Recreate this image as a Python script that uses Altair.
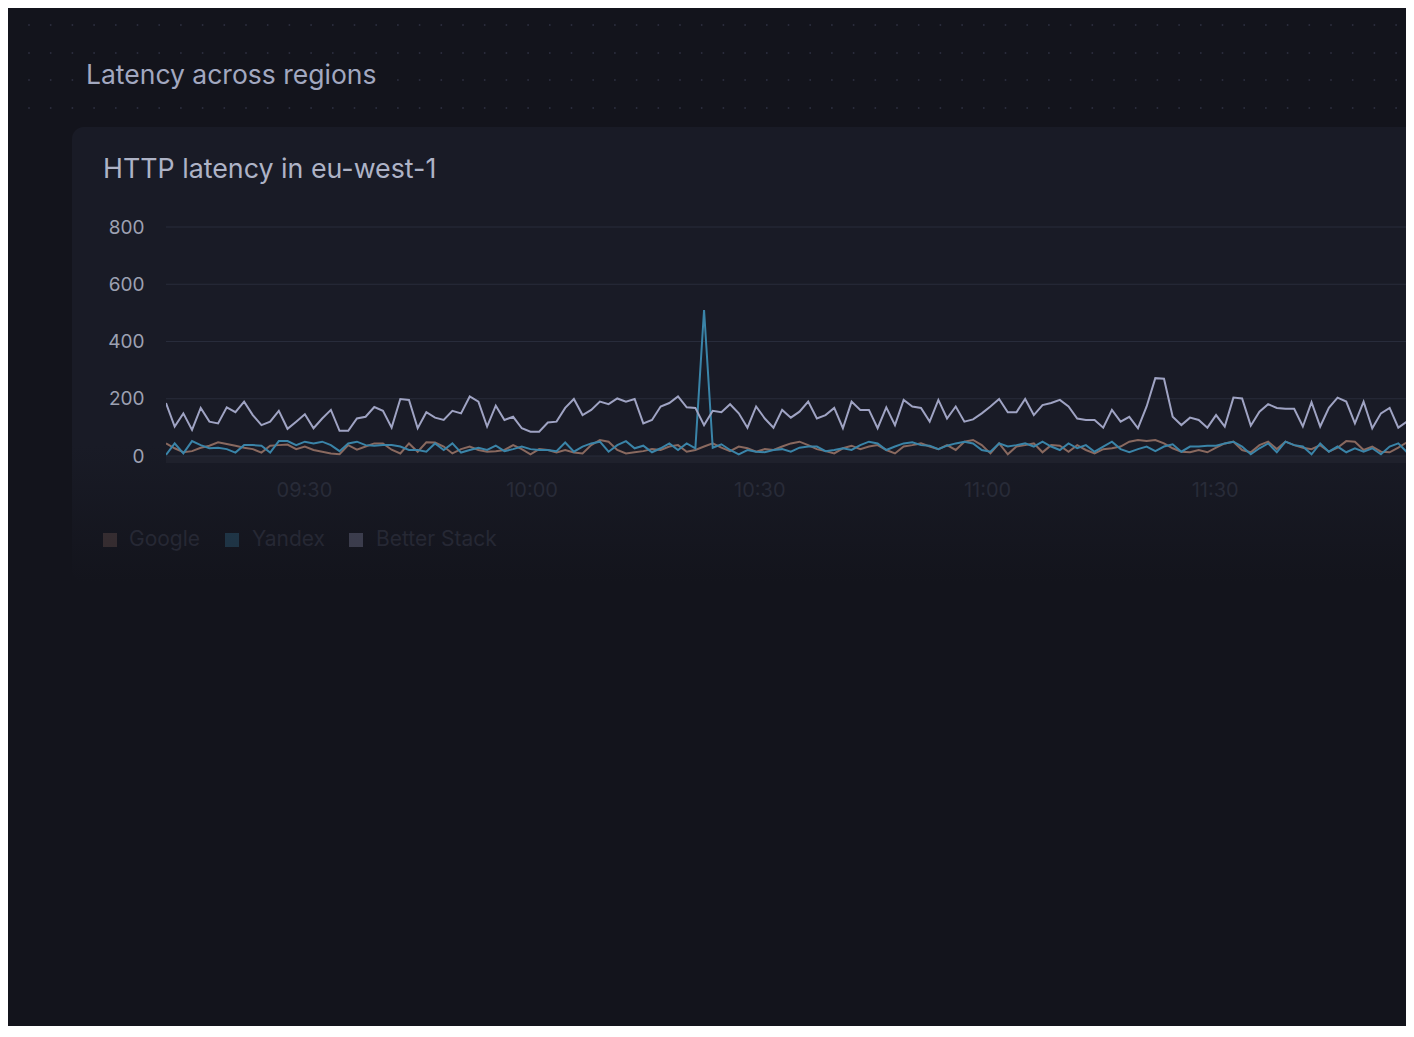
import altair as alt
import pandas as pd

# ---------------- data ----------------
series_names = ["Google", "Yandex", "Better Stack"]
series_colors = ["#89695f", "#3a84a8", "#9fa3c3"]

google = [44,27,13,17,29,36,48,42,36,29,
          24,12,36,38,40,24,33,21,15,9,
          6,38,22,33,44,44,22,9,44,15,
          48,47,33,9,24,33,21,15,17,21,
          38,24,6,24,21,12,21,12,9,
          38,56,50,21,9,13,17,24,21,33,
          38,15,21,33,44,29,17,33,27,15,
          24,21,33,44,50,38,24,17,9,27,
          36,24,33,38,21,9,33,38,44,33,
          24,38,21,50,56,38,9,
          44,6,33,38,44,13,38,36,15,38,
          21,9,24,27,33,50,56,52,56,44,
          27,15,13,21,13,29,44,50,21,13,
          38,50,24,50,38,29,24,38,15,29,
          52,50,21,33,15,13,29,48,24,15]

yandex = [4,44,9,52,38,27,29,24,12,38,
          38,36,12,52,52,38,50,44,50,38,
          17,44,50,38,36,38,38,33,21,21,
          15,44,21,44,12,21,29,21,36,17,
          24,33,24,21,21,17,47,15,33,
          44,50,15,38,52,27,36,13,27,44,
          21,44,27,510,29,41,21,6,21,15,
          13,21,24,15,29,33,33,17,21,27,
          21,38,50,44,21,33,44,48,38,36,
          24,36,44,50,44,21,15,
          44,33,38,44,33,50,33,21,44,27,
          38,15,33,50,24,13,24,33,17,33,
          41,15,33,33,36,36,44,50,33,6,
          27,44,13,50,38,33,6,44,15,33,
          13,27,15,27,6,33,44,13,24,33]

better_stack = [185,103,149,91,168,120,114,170,153,190,
                143,108,120,158,95,120,146,97,131,161,
                88,88,131,137,171,158,99,199,196,97,
                153,134,126,158,149,208,190,103,176,126,
                137,97,85,85,117,120,168,199,143,
                161,190,181,201,190,199,114,126,173,185,
                208,170,168,108,158,153,181,149,99,173,
                131,99,161,134,155,190,131,143,168,97,
                190,161,161,97,170,108,196,173,168,120,
                196,131,173,120,128,149,173,
                199,153,153,199,143,178,185,196,173,131,
                126,126,99,161,120,137,97,173,272,270,
                137,108,134,126,99,143,103,204,201,106,
                155,181,168,165,165,103,188,103,168,204,
                190,114,190,97,149,168,99,120,161,120]

y_ticks = [0, 200, 400, 600, 800]
x_tick_labels = ["09:30", "10:00", "10:30", "11:00", "11:30"]
start_time = "09:11:50"      # first sample
end_time = "11:55:12"        # right edge of the visible window
sample_seconds = 68.6
page_title = ["Latency across regions"]
panel_title = ["HTTP latency in eu-west-1"]


def to_min(s):
    parts = [int(p) for p in s.split(":")]
    while len(parts) < 3:
        parts.append(0)
    return (parts[0] - 9) * 60 + parts[1] + parts[2] / 60.0


n = min(len(google), len(yandex), len(better_stack))
t0 = to_min(start_time)
rows = []
for name, vals in zip(series_names, [google, yandex, better_stack]):
    for i, v in enumerate(vals[:n]):
        rows.append({"t": t0 + i * sample_seconds / 60.0, "latency": v, "series": name})
df = pd.DataFrame(rows)
x_tick_vals = [to_min(s) for s in x_tick_labels]

# ---------------- layout ----------------
W, H = 1240, 229
PAD_L, PAD_T, PAD_B = 158, 219, 570
PAGE_BG = "#13141c"
CARD_BG = "#191b26"
FONT = "Inter"

one = pd.DataFrame({"k": [0]})

# decorative dot texture in the page header (pixel space, plot-origin relative)
dot_rows = []
for yy in [25, 53, 80, 108]:
    k = 0
    while 29 + k * 21.7 < 1404:
        xx = 29 + k * 21.7
        if not (yy == 80 and 78 < xx < 388):
            dot_rows.append({"px": xx - 166, "py": yy - 227})
        k += 1
dots = alt.Chart(pd.DataFrame(dot_rows)).mark_circle(
    size=3.5, color="#34374a", opacity=0.75
).encode(x=alt.X("px:Q", scale=None, axis=None), y=alt.Y("py:Q", scale=None, axis=None))

card_fill = alt.LinearGradient(
    gradient="linear",
    stops=[
        alt.GradientStop(color=CARD_BG, offset=0),
        alt.GradientStop(color=CARD_BG, offset=0.7),
        alt.GradientStop(color=PAGE_BG, offset=1),
    ],
    x1=0, x2=0, y1=0, y2=1,
)
card = alt.Chart(one).mark_rect(
    color=card_fill, cornerRadiusTopLeft=12, cornerRadiusBottomLeft=12
).encode(x=alt.value(-94), x2=alt.value(W), y=alt.value(-100), y2=alt.value(355))

t1 = alt.Chart(pd.DataFrame({"label": page_title})).mark_text(
    align="left", baseline="alphabetic", font=FONT, fontSize=26.5, color="#a2a8c0"
).encode(x=alt.value(-80), y=alt.value(-143), text="label:N")

t2 = alt.Chart(pd.DataFrame({"label": panel_title})).mark_text(
    align="left", baseline="alphabetic", font=FONT, fontSize=26.8, color="#aeb3c6"
).encode(x=alt.value(-63), y=alt.value(-49), text="label:N")

x_scale = alt.Scale(domain=[t0, to_min(end_time)], nice=False, zero=False)
y_scale = alt.Scale(domain=[0, 800], nice=False)

x_axis = alt.Axis(
    title=None, values=x_tick_vals, zindex=2,
    labelExpr="timeFormat(datetime(2024, 0, 1, 9, 0, round(datum.value * 60)), '%H:%M')",
    grid=False, domain=False, ticks=False, labelPadding=24,
    labelFont=FONT, labelFontSize=20, labelColor="#282b38",
)
y_axis = alt.Axis(
    title=None, values=y_ticks, grid=False, zindex=2,
    domain=False, ticks=False, labelPadding=22,
    labelFont=FONT, labelFontSize=19, labelColor="#9da1b2",
)

grid = alt.Chart(pd.DataFrame({"v": y_ticks})).mark_rule(
    color="#282c3b", strokeWidth=1.2
).encode(y=alt.Y("v:Q", scale=y_scale, axis=y_axis))

base_band = alt.Chart(pd.DataFrame({"v": y_ticks[:1]})).mark_rule(
    color="#1f212c", strokeWidth=7, yOffset=3.5
).encode(y=alt.Y("v:Q", scale=y_scale, axis=y_axis))

lines = alt.Chart(df).mark_line(strokeWidth=2, clip=True).encode(
    x=alt.X("t:Q", scale=x_scale, axis=x_axis),
    y=alt.Y("latency:Q", scale=y_scale, axis=y_axis),
    color=alt.Color("series:N", scale=alt.Scale(domain=series_names, range=series_colors), legend=None),
)

# manual legend (faded, as in the reference)
legend_layers = []
sw_x = [-56, 66, 190]
lb_x = [-37, 86, 210]
for i, name in enumerate(series_names):
    d = pd.DataFrame({"label": [name]})
    legend_layers.append(
        alt.Chart(d).mark_square(size=196, color=series_colors[i], opacity=0.28, cornerRadius=3)
        .encode(x=alt.value(sw_x[i]), y=alt.value(313))
    )
    legend_layers.append(
        alt.Chart(d).mark_text(align="left", baseline="middle", font=FONT, fontSize=21, color="#262834")
        .encode(x=alt.value(lb_x[i]), y=alt.value(313), text="label:N")
    )

chart = alt.layer(dots, card, t1, t2, base_band, grid, lines, *legend_layers).properties(
    width=W, height=H,
    padding={"left": PAD_L, "top": PAD_T, "right": 0, "bottom": PAD_B},
    autosize=alt.AutoSizeParams(type="none"),
    background=PAGE_BG,
).configure_view(stroke=None)

chart.save("out.html", embed_options={"renderer": "svg", "actions": False})
